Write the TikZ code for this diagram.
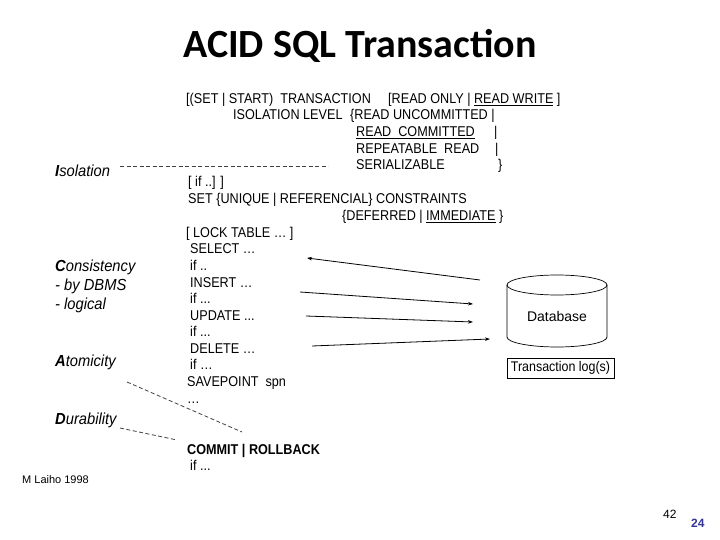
\documentclass[tikz,border=0pt]{standalone}
\usepackage{fontspec}
\setmainfont{Liberation Sans}
\newfontfamily\condf[FakeStretch=0.89]{Liberation Sans}
\newfontfamily\lblf[FakeStretch=0.92]{Liberation Sans}
\newfontfamily\titlefont{Carlito}
\usetikzlibrary{arrows.meta}
\definecolor{pgblue}{RGB}{51,51,153}
\begin{document}
\begin{tikzpicture}[x=1pt,y=-1pt,
  txt/.style={anchor=base west,inner sep=0pt,font=\condf\fontsize{14.2}{16}\selectfont},
  lbl/.style={anchor=base west,inner sep=0pt,font=\lblf\fontsize{16}{18}\selectfont\itshape},
  dsh/.style={draw=black!75,dash pattern=on 4pt off 2.5pt,line width=0.8pt},
  arr/.style={-{Stealth[length=5pt,width=3.5pt]},line width=0.8pt},
  shp/.style={line width=0.7pt}]
\useasboundingbox (0,0) rectangle (720,540);
\node[anchor=base,inner sep=0pt,font=\titlefont\bfseries\fontsize{40}{48}\selectfont] (title) at (360,58) {ACID SQL Transaction};

% statement text
\node[txt] (l1) at (186,104) {[(SET | START)\ \ TRANSACTION};
\node[txt] (l1b) at (388,104) {[READ ONLY | \underline{READ WRITE} ]};
\node[txt] (l2) at (233,120) {ISOLATION LEVEL};
\node[txt] (l2b) at (350,120) {\{READ UNCOMMITTED |};
\node[txt] (l3) at (356,137) {\underline{READ\ \ COMMITTED}};
\node[txt] (l3b) at (494,137) {|};
\node[txt] (l4) at (356,154) {REPEATABLE\ \ READ};
\node[txt] (l4b) at (495,154) {|};
\node[txt] (l5) at (356,170) {SERIALIZABLE};
\node[txt] (l5b) at (498,170) {\}};
\node[txt] (l6) at (188,187) {[ if ..] ]};
\node[txt] (l7) at (188,204) {SET \{UNIQUE | REFERENCIAL\} CONSTRAINTS};
\node[txt] (l8) at (342,221) {\{DEFERRED | \underline{IMMEDIATE} \}};
\node[txt] (l9) at (186,237) {[ LOCK TABLE … ]};
\node[txt] (l10) at (190,253) {SELECT …};
\node[txt] (l11) at (190,270) {if ..};
\node[txt] (l12) at (190,287) {INSERT …};
\node[txt] (l13) at (190,303) {if ...};
\node[txt] (l14) at (190,320) {UPDATE ...};
\node[txt] (l15) at (190,336) {if ...};
\node[txt] (l16) at (190,353) {DELETE …};
\node[txt] (l17) at (190,369) {if …};
\node[txt] (l18) at (187,386) {SAVEPOINT\ \ spn};
\node[txt] (l19) at (187,403) {…};
\node[txt,font=\condf\fontsize{14.2}{16}\selectfont\bfseries] (l20) at (187,454) {COMMIT | ROLLBACK};
\node[txt] (l21) at (190,470) {if ...};

% ACID labels
\node[lbl] (iso) at (55,176.5) {{\bfseries I}solation};
\node[lbl] (con) at (55,271.5) {{\bfseries C}onsistency};
\node[lbl] (con2) at (55,290.5) {- by DBMS};
\node[lbl] (con3) at (55,309.5) {- logical};
\node[lbl] (ato) at (55,366.5) {{\bfseries A}tomicity};
\node[lbl] (dur) at (55,424.5) {{\bfseries D}urability};

\node[anchor=base west,inner sep=0pt,font=\fontsize{11}{13}\selectfont] (auth) at (22,483) {M Laiho 1998};
\node[anchor=base west,inner sep=0pt,font=\fontsize{12}{14}\selectfont] (pg1) at (663,518) {42};
\node[anchor=base west,inner sep=0pt,font=\fontsize{12}{14}\selectfont\bfseries,text=pgblue] (pg2) at (691,527) {24};

% dashed connectors
\coordinate (isoS) at (120,166);
\coordinate (isoE) at (328,166);
\coordinate (atoS) at (127,382);
\coordinate (atoE) at (242,432);
\coordinate (durS) at (120,428);
\coordinate (durE) at (177,440);
\draw[dsh] (isoS) -- (isoE);
\draw[dsh] (atoS) -- (atoE);
\draw[dsh] (durS) -- (durE);

% database cylinder
\draw[shp] (507,285) -- (507,337) arc[start angle=180,end angle=0,x radius=50,y radius=10] -- (607,285);
\draw[shp] (557,285) ellipse [x radius=50,y radius=10];
\node[inner sep=0pt,font=\fontsize{14}{16}\selectfont] (db) at (557,316) {Database};

% transaction log
\node[draw,shp,minimum width=107pt,minimum height=20pt,inner sep=0pt,font=\condf\fontsize{14}{16}\selectfont] (log) at (560.5,368) {Transaction log(s)};

% arrows
\coordinate (a1s) at (480,280);
\coordinate (a1e) at (307,258);
\coordinate (a2s) at (300,292);
\coordinate (a2e) at (473,304);
\coordinate (a3s) at (306,316);
\coordinate (a3e) at (473,322);
\coordinate (a4s) at (312,346);
\coordinate (a4e) at (490,339);
\draw[arr] (a1s) -- (a1e);
\draw[arr] (a2s) -- (a2e);
\draw[arr] (a3s) -- (a3e);
\draw[arr] (a4s) -- (a4e);
\end{tikzpicture}
\end{document}
